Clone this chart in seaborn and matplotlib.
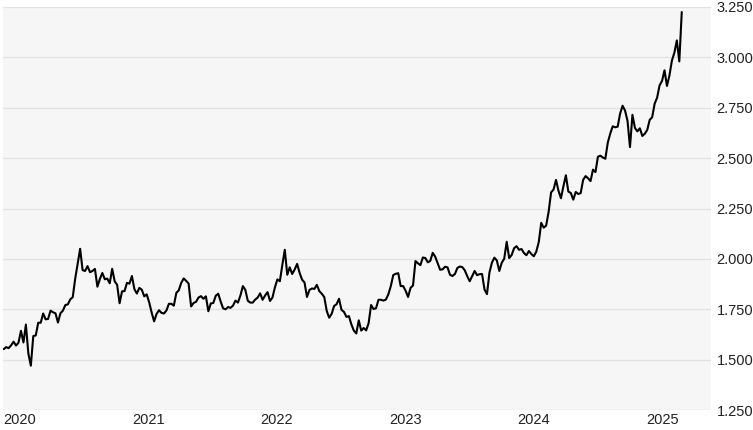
import matplotlib
matplotlib.use('Agg')
import matplotlib.pyplot as plt
import pandas as pd
import seaborn as sns
from matplotlib.ticker import FuncFormatter

# weekly gold price (USD/oz), Friday values
price_2020 = [1552, 1562, 1557, 1571, 1589, 1570, 1584, 1643, 1585, 1674, 1530, 1470, 1617,
              1620, 1683, 1683, 1729, 1700, 1702, 1743, 1735, 1730, 1684, 1730, 1743, 1771,
              1774, 1799, 1810, 1902, 1975, 2050, 1944, 1940, 1964, 1934, 1940, 1950, 1862,
              1900, 1930, 1899, 1902, 1879, 1951, 1889, 1871, 1780, 1839, 1840, 1881, 1877]
price_2021 = [1915, 1850, 1828, 1856, 1847, 1814, 1824, 1784, 1734, 1690, 1727, 1745, 1732,
              1729, 1744, 1777, 1777, 1768, 1831, 1844, 1881, 1903, 1891, 1877, 1764, 1781,
              1787, 1808, 1815, 1802, 1814, 1740, 1779, 1781, 1817, 1827, 1788, 1754, 1750,
              1761, 1757, 1768, 1793, 1783, 1818, 1865, 1846, 1792, 1783, 1783, 1798, 1808, 1829]
price_2022 = [1797, 1818, 1835, 1791, 1808, 1859, 1898, 1889, 1970, 2045, 1921, 1958, 1925,
              1947, 1975, 1931, 1897, 1883, 1811, 1846, 1853, 1851, 1871, 1840, 1827, 1811,
              1742, 1708, 1727, 1766, 1775, 1802, 1747, 1737, 1712, 1716, 1675, 1644, 1630,
              1695, 1644, 1657, 1645, 1681, 1771, 1751, 1755, 1797, 1797, 1793, 1798, 1824]
price_2023 = [1865, 1920, 1926, 1929, 1865, 1865, 1842, 1811, 1856, 1868, 1989, 1978, 1969,
              2007, 2004, 1983, 1990, 2030, 2011, 1978, 1946, 1948, 1961, 1958, 1921, 1915,
              1925, 1955, 1962, 1959, 1943, 1914, 1889, 1914, 1940, 1919, 1924, 1925, 1848,
              1825, 1932, 1981, 2006, 1992, 1940, 1981, 2001, 2085, 2004, 2019, 2053, 2063]
price_2024 = [2045, 2049, 2029, 2018, 2039, 2024, 2013, 2036, 2083, 2179, 2155, 2165, 2233,
              2330, 2344, 2392, 2338, 2301, 2360, 2415, 2334, 2327, 2294, 2332, 2322, 2326,
              2392, 2411, 2400, 2386, 2443, 2431, 2507, 2512, 2503, 2497, 2577, 2622, 2658,
              2653, 2656, 2721, 2760, 2736, 2685, 2555, 2715, 2650, 2633, 2648, 2610, 2621]
price_2025 = [2640, 2690, 2703, 2770, 2800, 2861, 2883, 2936, 2858, 2910, 2984, 3023, 3084,
              2980, 3225]

year_labels = ['2020', '2021', '2022', '2023', '2024', '2025']
y_ticks = [1250, 1500, 1750, 2000, 2250, 2500, 2750, 3000, 3250]

prices = price_2020 + price_2021 + price_2022 + price_2023 + price_2024 + price_2025
df = pd.DataFrame({
    'date': pd.date_range('2020-01-03', periods=len(prices), freq='W-FRI'),
    'price': prices,
})

sns.set_style('whitegrid', {'axes.facecolor': '#f6f6f6', 'grid.color': '#e2e2e2'})
plt.rcParams['font.family'] = ['Liberation Sans', 'DejaVu Sans']

fig = plt.figure(figsize=(7.53, 4.30), dpi=100)
ax = fig.add_axes([3 / 753, 20 / 430, 708 / 753, 403 / 430])

sns.lineplot(data=df, x='date', y='price', color='black', linewidth=1.5, ax=ax)

ax.set_xlim(pd.Timestamp('2020-01-01'), pd.Timestamp('2025-07-03'))
ax.set_ylim(1250, 3250)
ax.set_xlabel('')
ax.set_ylabel('')

ax.set_xticks([pd.Timestamp(f'{y}-01-01') for y in year_labels])
ax.set_xticklabels(year_labels, ha='left')
ax.set_yticks(y_ticks)
ax.yaxis.set_major_formatter(FuncFormatter(lambda v, _: f'{v:,.0f}'.replace(',', '.')))
ax.yaxis.tick_right()
ax.tick_params(axis='both', length=0, labelsize=10.5, colors='#222222')
ax.tick_params(axis='x', pad=2)
ax.tick_params(axis='y', pad=4)

ax.grid(axis='x', visible=False)
ax.grid(axis='y', linewidth=1)
for s in ax.spines.values():
    s.set_visible(False)

fig.savefig('out.png', dpi=100, facecolor='white')
